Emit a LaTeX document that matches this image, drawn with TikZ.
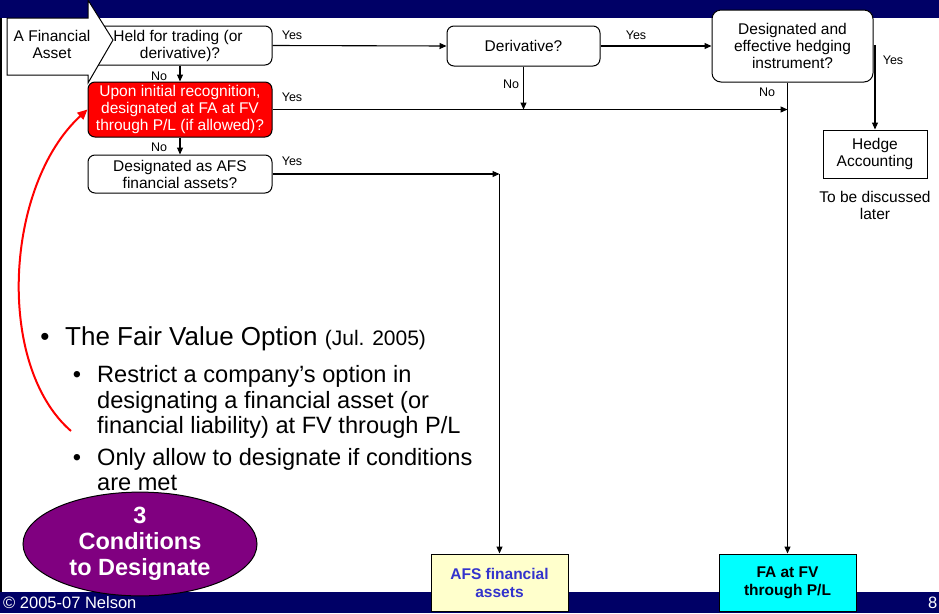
\documentclass[tikz,border=0pt]{standalone}
\usepackage{fontspec}
\setmainfont{Liberation Sans}
\usetikzlibrary{arrows.meta,shapes.geometric}

\definecolor{bandnavy}{RGB}{0,0,102}
\definecolor{condpurple}{RGB}{128,0,128}
\definecolor{afsfill}{RGB}{255,255,204}
\definecolor{afstext}{RGB}{51,51,204}
\definecolor{fvfill}{RGB}{0,255,255}

\newcommand\flowfont{\fontsize{15.5}{17}\selectfont}
\newcommand\lblfont{\fontsize{12.5}{14}\selectfont}
\newcommand\bulletfont{\fontsize{26}{30}\selectfont}
\newcommand\subfont{\fontsize{23.6}{26}\selectfont}
\newcommand\outcomefont{\fontsize{15.5}{18}\selectfont\bfseries}

\tikzset{
  qbox/.style={draw, line width=1pt, rounded corners=7pt, fill=white,
    align=center, font=\flowfont, inner sep=0pt},
  outbox/.style={draw, line width=1pt, align=center, font=\outcomefont, inner sep=0pt},
  lbl/.style={font=\lblfont, inner sep=0pt},
  flowarrow/.style={line width=1.1pt, -{Triangle[length=7pt,width=6pt]}},
  txtline/.style={anchor=base west, inner sep=0pt},
}

\begin{document}
\begin{tikzpicture}[x=1pt,y=-1pt]
  % page and title / footer bands
  \fill[white] (0,0) rectangle (939,613);
  \useasboundingbox (0,0) rectangle (939,613);
  \fill[bandnavy] (0,0) rectangle (939,18);
  \fill[bandnavy] (0,592) rectangle (939,613);
  \fill[black] (0,18) rectangle (2,592);

  % decision boxes
  \node[qbox, minimum width=184, minimum height=39] (held) at (180,45.5)
    {\hspace*{-4pt}Held for trading (or\\derivative)?};
  \node[qbox, minimum width=153, minimum height=40] (deriv) at (523.5,46) {Derivative?};
  \node[qbox, rounded corners=9pt, minimum width=161, minimum height=72] (hedgeq) at (792.5,46)
    {Designated and\\effective hedging\\instrument?};
  \node[qbox, fill=red, text=white, minimum width=184, minimum height=55] (fvo) at (180,109.5)
    {Upon initial recognition,\\designated at FA at FV\\through P/L (if allowed)?};
  \node[qbox, minimum width=184, minimum height=38] (afsq) at (180,174)
    {Designated as AFS\\financial assets?};
  \node[draw, line width=1pt, fill=white, align=center, font=\flowfont, inner sep=0pt,
    minimum width=104, minimum height=48] (hedge) at (875,154) {Hedge\\Accounting};
  \node[align=center, font=\flowfont, inner sep=0pt] (later) at (875,205)
    {To be discussed\\later};

  % outcome boxes
  \node[outbox, fill=afsfill, text=afstext, minimum width=137, minimum height=57] (afs)
    at (499.5,582.5) {AFS financial\\assets};
  \node[outbox, fill=fvfill, minimum width=137, minimum height=57] (fvpl)
    at (787.5,582.5) {FA at FV\\through P/L};

  % start arrow shape
  \draw[line width=1pt, fill=white] (7,18) -- (88,18) -- (88,0) -- (113,40) -- (88,83)
    -- (88,75) -- (7,75) -- cycle;
  \node[align=center, font=\flowfont, inner sep=0pt] (start) at (52,44) {A Financial\\Asset};

  % connectors
  \draw[flowarrow] (held.east) -- (deriv.west);
  \draw[flowarrow] (deriv.east) -- (hedgeq.west);
  \draw[flowarrow] (hedgeq.east) -| (hedge.north);
  \draw[flowarrow] (fvpl.north |- hedgeq.south) -- (fvpl.north);
  \draw[flowarrow] (fvo.east) -- (fvo.east -| fvpl.north);
  \draw[flowarrow] (deriv.south) -- (deriv.south |- fvo.east);
  \draw[flowarrow] (held.south) -- (fvo.north);
  \draw[flowarrow] (fvo.south) -- (afsq.north);
  \coordinate (afsturn) at (afsq.east -| afs.north);
  \draw[flowarrow] (afsq.east) -- (afsturn);
  \draw[flowarrow] (afsturn) -- (afs.north);

  % branch labels
  \node[lbl] (y1) at (292,35) {Yes};
  \node[lbl] (y2) at (292,97) {Yes};
  \node[lbl] (y3) at (292,161) {Yes};
  \node[lbl] (y4) at (636,35) {Yes};
  \node[lbl] (y5) at (893,60) {Yes};
  \node[lbl] (n1) at (159,76) {No};
  \node[lbl] (n2) at (159,147) {No};
  \node[lbl] (n3) at (511,84) {No};
  \node[lbl] (n4) at (767,92) {No};

  % red pointer to the fair value option question
  \coordinate (curvestart) at (71,431);
  \draw[red, line width=2pt, -{Triangle[length=10pt,width=9pt]}]
    (curvestart) .. controls (-5,365) and (5,185) .. (fvo.west);

  % bullet text
  \node[txtline, anchor=base] (b0) at (45,345) {\bulletfont •};
  \node[txtline] (t0) at (65,345)
    {\bulletfont The Fair Value Option {\fontsize{21}{24}\selectfont(Jul. 2005)}};
  \node[txtline, anchor=base] (b1) at (77,382) {\subfont •};
  \node[txtline] (t1) at (97,382) {\subfont Restrict a company’s option in};
  \node[txtline] (t2) at (97,408) {\subfont designating a financial asset (or};
  \node[txtline] (t3) at (97,433) {\subfont financial liability) at FV through P/L};
  \node[txtline, anchor=base] (b2) at (77,465) {\subfont •};
  \node[txtline] (t4) at (97,465) {\subfont Only allow to designate if conditions};
  \node[txtline] (t5) at (97,490) {\subfont are met};

  % conditions badge
  \node[ellipse, draw=black, line width=1pt, fill=condpurple, text=white,
    minimum width=234, minimum height=92, inner sep=0pt, align=center,
    font=\fontsize{23.5}{26}\selectfont\bfseries] (cond) at (140,544)
    {3\\Conditions\\to Designate};

  % footer
  \node[txtline, text=white, font=\fontsize{16.5}{18}\selectfont] (foot) at (3,608)
    {© 2005-07 Nelson};
  \node[txtline, text=white, font=\fontsize{16.5}{18}\selectfont] (pageno) at (928,608) {8};
\end{tikzpicture}
\end{document}
